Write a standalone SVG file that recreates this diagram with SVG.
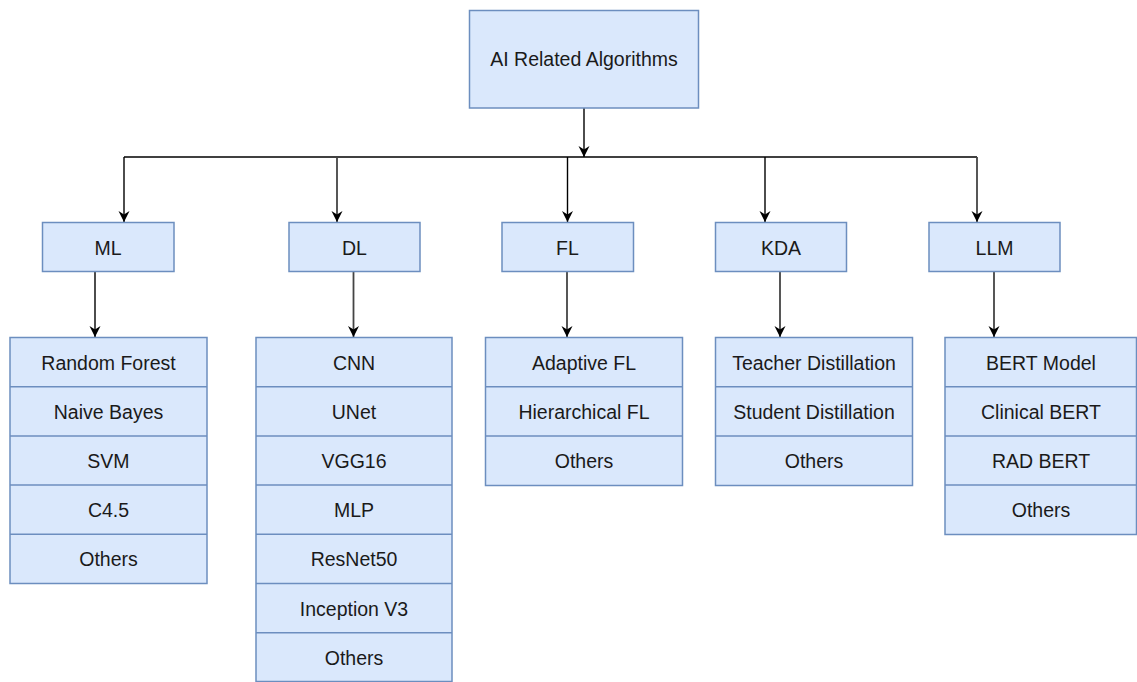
<svg xmlns="http://www.w3.org/2000/svg" width="1137" height="682" viewBox="0 0 1137 682">
<style>
.box{fill:#dae8fc;stroke:#6c8ebf;stroke-width:1.5}
.sep{stroke:#6c8ebf;stroke-width:1.5}
.t{font-family:"Liberation Sans",Arial,sans-serif;font-size:19.5px;fill:#1a1a1a;text-anchor:middle}
.c{fill:none;stroke:#000;stroke-width:1.4}
.g{fill:none;stroke:#444;stroke-width:1.8}
</style>
<defs>
<marker id="arr" markerUnits="userSpaceOnUse" markerWidth="14" markerHeight="14" viewBox="-12 -7 14 14" refX="0" refY="0" orient="auto">
<path d="M0,0 L-11,-5.5 L-7.5,0 L-11,5.5 Z" fill="#000"/>
</marker>
</defs>
<rect width="1137" height="682" fill="#fff"/>
<g id="connectors">
<path class="c" d="M584,108 V157" marker-end="url(#arr)"/>
<path class="c" d="M124,157 H977"/>
<path class="c" d="M124,157 V222" marker-end="url(#arr)"/>
<path class="g" d="M337,157 V222" marker-end="url(#arr)"/>
<path class="c" d="M567.5,157 V222" marker-end="url(#arr)"/>
<path class="c" d="M765,157 V222" marker-end="url(#arr)"/>
<path class="g" d="M977,157 V222" marker-end="url(#arr)"/>
<path class="c" d="M95,272 V337" marker-end="url(#arr)"/>
<path class="g" d="M353.5,272 V337" marker-end="url(#arr)"/>
<path class="g" d="M567,272 V337" marker-end="url(#arr)"/>
<path class="g" d="M780,272 V337" marker-end="url(#arr)"/>
<path class="g" d="M994,272 V337" marker-end="url(#arr)"/>
</g>
<g id="root">
<rect class="box" x="469.5" y="10.5" width="229" height="97.5"/>
<text class="t" x="584" y="66">AI Related Algorithms</text>
</g>
<g id="ml">
<rect class="box" x="42.5" y="222.5" width="131.5" height="49"/>
<text class="t" x="108" y="254.5">ML</text>
</g>
<g id="dl">
<rect class="box" x="289" y="222.5" width="131" height="49"/>
<text class="t" x="354.5" y="254.5">DL</text>
</g>
<g id="fl">
<rect class="box" x="502" y="222.5" width="131.5" height="49"/>
<text class="t" x="567.5" y="254.5">FL</text>
</g>
<g id="kda">
<rect class="box" x="715.5" y="222.5" width="131" height="49"/>
<text class="t" x="781" y="254.5">KDA</text>
</g>
<g id="llm">
<rect class="box" x="929" y="222.5" width="131" height="49"/>
<text class="t" x="994.5" y="254.5">LLM</text>
</g>
<g id="ml-list">
<rect class="box" x="10" y="337.5" width="197" height="246"/>
<line class="sep" x1="10" y1="386.7" x2="207" y2="386.7"/>
<line class="sep" x1="10" y1="435.9" x2="207" y2="435.9"/>
<line class="sep" x1="10" y1="485.1" x2="207" y2="485.1"/>
<line class="sep" x1="10" y1="534.3" x2="207" y2="534.3"/>
<text class="t" x="108.5" y="369.6">Random Forest</text>
<text class="t" x="108.5" y="418.8">Naive Bayes</text>
<text class="t" x="108.5" y="468">SVM</text>
<text class="t" x="108.5" y="517.2">C4.5</text>
<text class="t" x="108.5" y="566.4">Others</text>
</g>
<g id="dl-list">
<rect class="box" x="256" y="337.5" width="196" height="344"/>
<line class="sep" x1="256" y1="386.7" x2="452" y2="386.7"/>
<line class="sep" x1="256" y1="435.9" x2="452" y2="435.9"/>
<line class="sep" x1="256" y1="485.1" x2="452" y2="485.1"/>
<line class="sep" x1="256" y1="534.3" x2="452" y2="534.3"/>
<line class="sep" x1="256" y1="583.5" x2="452" y2="583.5"/>
<line class="sep" x1="256" y1="632.7" x2="452" y2="632.7"/>
<text class="t" x="354" y="369.6">CNN</text>
<text class="t" x="354" y="418.8">UNet</text>
<text class="t" x="354" y="468">VGG16</text>
<text class="t" x="354" y="517.2">MLP</text>
<text class="t" x="354" y="566.4">ResNet50</text>
<text class="t" x="354" y="615.6">Inception V3</text>
<text class="t" x="354" y="664.8">Others</text>
</g>
<g id="fl-list">
<rect class="box" x="485.5" y="337.5" width="197" height="148"/>
<line class="sep" x1="485.5" y1="386.7" x2="682.5" y2="386.7"/>
<line class="sep" x1="485.5" y1="435.9" x2="682.5" y2="435.9"/>
<text class="t" x="584" y="369.6">Adaptive FL</text>
<text class="t" x="584" y="418.8">Hierarchical FL</text>
<text class="t" x="584" y="468">Others</text>
</g>
<g id="kda-list">
<rect class="box" x="715.5" y="337.5" width="197" height="148"/>
<line class="sep" x1="715.5" y1="386.7" x2="912.5" y2="386.7"/>
<line class="sep" x1="715.5" y1="435.9" x2="912.5" y2="435.9"/>
<text class="t" x="814" y="369.6">Teacher Distillation</text>
<text class="t" x="814" y="418.8">Student Distillation</text>
<text class="t" x="814" y="468">Others</text>
</g>
<g id="llm-list">
<rect class="box" x="945" y="337.5" width="191.5" height="197"/>
<line class="sep" x1="945" y1="386.7" x2="1136.5" y2="386.7"/>
<line class="sep" x1="945" y1="435.9" x2="1136.5" y2="435.9"/>
<line class="sep" x1="945" y1="485.1" x2="1136.5" y2="485.1"/>
<text class="t" x="1041" y="369.6">BERT Model</text>
<text class="t" x="1041" y="418.8">Clinical BERT</text>
<text class="t" x="1041" y="468">RAD BERT</text>
<text class="t" x="1041" y="517.2">Others</text>
</g>
</svg>
